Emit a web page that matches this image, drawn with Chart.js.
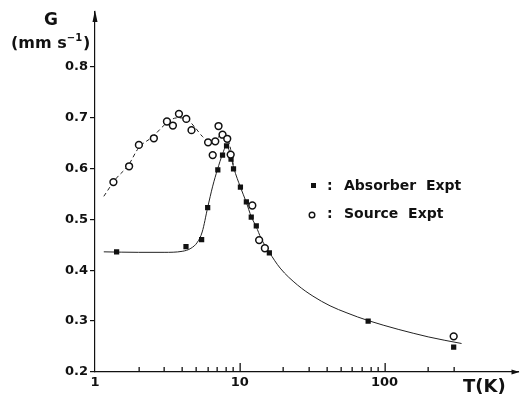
<!DOCTYPE html>
<html>
<head>
<meta charset="utf-8">
<script src="https://cdn.jsdelivr.net/npm/chart.js@4.4.1/dist/chart.umd.min.js"></script>
<style>
  html, body { margin: 0; padding: 0; background: #fff; }
</style>
</head>
<body>
<canvas id="gChart" width="524" height="395"></canvas>
<script>
// measured points, T in K, G in mm/s
let absorberT = [1.41, 4.25, 5.45, 6.0, 7.05, 7.6, 8.1, 8.7, 9.05, 10.1, 11.1, 12.0, 13.0, 16.0, 77, 300];
let absorberG = [0.436, 0.446, 0.460, 0.523, 0.597, 0.626, 0.644, 0.618, 0.599, 0.563, 0.534, 0.504, 0.487, 0.434, 0.300, 0.249];

let sourceT = [1.34, 1.72, 2.01, 2.55, 3.14, 3.45, 3.80, 4.27, 4.64, 6.04, 6.5, 6.77, 7.13, 7.6, 8.19, 8.65, 12.2, 13.6, 14.9, 300];
let sourceG = [0.573, 0.604, 0.646, 0.659, 0.692, 0.684, 0.707, 0.697, 0.675, 0.651, 0.626, 0.653, 0.683, 0.666, 0.658, 0.627, 0.527, 0.459, 0.443, 0.270];

// fitted curves
let fitT = [1.15, 2, 3, 4, 4.6, 5.1, 5.5, 6.0, 6.5, 7.0, 7.6, 8.1, 8.7, 9.1, 10.1, 11.1, 12, 13, 14, 16, 19, 25, 32, 42, 55, 77, 200, 340];
let fitG = [0.436, 0.435, 0.435, 0.437, 0.443, 0.455, 0.475, 0.523, 0.565, 0.597, 0.628, 0.645, 0.622, 0.600, 0.563, 0.533, 0.505, 0.485, 0.463, 0.435, 0.404, 0.371, 0.349, 0.330, 0.316, 0.301, 0.269, 0.256];

let dashT = [1.15, 1.38, 1.7, 2.0, 2.5, 3.1, 3.65, 4.15, 4.85, 5.5, 6.15, 7.0, 7.6, 8.2, 8.65, 9.1];
let dashG = [0.545, 0.578, 0.606, 0.640, 0.662, 0.688, 0.699, 0.699, 0.682, 0.663, 0.653, 0.660, 0.666, 0.660, 0.637, 0.600];

let xTicks = [1, 2, 3, 4, 5, 6, 7, 8, 9, 10, 20, 30, 40, 50, 60, 70, 80, 90, 100, 200, 300];
let xLabels = [1, 10, 100];
let yTicks = [0.2, 0.3, 0.4, 0.5, 0.6, 0.7, 0.8];

function toPoints(xs, ys) {
  return xs.map(function (x, i) { return { x: x, y: ys[i] }; });
}

const FONT = "'DejaVu Sans', 'Liberation Sans', sans-serif";

const decor = {
  id: 'decor',
  afterDraw(chart) {
    const ctx = chart.ctx;
    const xs = chart.scales.x;
    const area = chart.chartArea;
    ctx.save();
    ctx.strokeStyle = '#111';
    ctx.fillStyle = '#111';

    // x ticks point up into the plot
    xTicks.forEach(function (v) {
      if (v === 1) return;
      const px = xs.getPixelForValue(v);
      const len = xLabels.indexOf(v) >= 0 ? 9 : 5;
      ctx.fillRect(Math.round(px) - 0.5, area.bottom - len, 1.3, len);
    });

    // arrow heads
    ctx.beginPath();
    ctx.moveTo(area.left, area.top - 2);
    ctx.lineTo(area.left - 2.5, area.top + 10);
    ctx.lineTo(area.left + 2.5, area.top + 10);
    ctx.closePath();
    ctx.fill();
    ctx.beginPath();
    ctx.moveTo(area.right + 1, area.bottom);
    ctx.lineTo(area.right - 7, area.bottom - 2.5);
    ctx.lineTo(area.right - 7, area.bottom + 2.5);
    ctx.closePath();
    ctx.fill();

    // axis titles
    ctx.textBaseline = 'middle';
    ctx.textAlign = 'center';
    ctx.font = 'bold 17px ' + FONT;
    ctx.fillText('G', 51, 21);
    ctx.textAlign = 'left';
    ctx.font = 'bold 16px ' + FONT;
    let x = 11;
    ctx.fillText('(mm s', x, 44);
    x += ctx.measureText('(mm s').width;
    ctx.font = 'bold 10px ' + FONT;
    ctx.fillText('\u22121', x, 38);
    x += ctx.measureText('\u22121').width + 1;
    ctx.font = 'bold 16px ' + FONT;
    ctx.fillText(')', x, 44);

    ctx.font = 'bold 18px ' + FONT;
    ctx.fillText('T(K)', 463, 387);

    // legend
    ctx.font = 'bold 14px ' + FONT;
    ctx.fillRect(311, 183, 5, 5);
    ctx.fillText(':', 327, 186);
    ctx.fillText('Absorber  Expt', 344, 186);
    ctx.lineWidth = 1.4;
    ctx.beginPath();
    ctx.arc(312, 215, 2.8, 0, Math.PI * 2);
    ctx.stroke();
    ctx.fillText(':', 327, 214);
    ctx.fillText('Source  Expt', 344, 214);
    ctx.restore();
  }
};

document.addEventListener('DOMContentLoaded', function () {
  const ctx = document.getElementById('gChart').getContext('2d');

  new Chart(ctx, {
    type: 'scatter',
    data: {
      datasets: [
        {
          label: 'Absorber Expt',
          data: toPoints(absorberT, absorberG),
          pointStyle: 'rect',
          pointRadius: 3.7,
          backgroundColor: '#111',
          borderColor: '#111',
          borderWidth: 0,
          order: 1
        },
        {
          label: 'Source Expt',
          data: toPoints(sourceT, sourceG),
          pointStyle: 'circle',
          pointRadius: 3.4,
          backgroundColor: '#fff',
          borderColor: '#111',
          borderWidth: 1.5,
          order: 0
        },
        {
          label: 'fit',
          data: toPoints(fitT, fitG),
          showLine: true,
          pointRadius: 0,
          borderColor: '#222',
          borderWidth: 1,
          cubicInterpolationMode: 'monotone',
          order: 3
        },
        {
          label: 'fit source',
          data: toPoints(dashT, dashG),
          showLine: true,
          pointRadius: 0,
          borderColor: '#222',
          borderWidth: 1,
          borderDash: [4, 3],
          cubicInterpolationMode: 'monotone',
          order: 2
        }
      ]
    },
    options: {
      responsive: false,
      animation: false,
      events: [],
      layout: { padding: { top: 12, right: 2, left: 0, bottom: 0 } },
      plugins: { legend: { display: false }, tooltip: { enabled: false } },
      scales: {
        x: {
          type: 'logarithmic',
          min: 1,
          max: 841,
          afterBuildTicks: function (scale) {
            scale.ticks = xTicks.map(function (v) { return { value: v }; });
          },
          afterFit: function (scale) { scale.height = 23; },
          grid: { display: false, drawTicks: false },
          border: { display: true, color: '#111', width: 1.2 },
          ticks: {
            autoSkip: false,
            maxRotation: 0,
            padding: 3,
            color: '#111',
            font: { family: FONT, size: 13, weight: 'bold' },
            callback: function (v) { return xLabels.indexOf(v) >= 0 ? String(v) : ''; }
          }
        },
        y: {
          min: 0.2,
          max: 0.907,
          afterBuildTicks: function (scale) {
            scale.ticks = yTicks.map(function (v) { return { value: v }; });
          },
          afterFit: function (scale) { scale.width = 95; },
          grid: { drawOnChartArea: false, drawTicks: true, tickLength: 5, color: '#111', lineWidth: 1.2 },
          border: { display: true, color: '#111', width: 1.2 },
          ticks: {
            padding: 2,
            color: '#111',
            font: { family: FONT, size: 13, weight: 'bold' },
            callback: function (v) { return v.toFixed(1); }
          }
        }
      }
    },
    plugins: [decor]
  });
});
</script>
</body>
</html>
